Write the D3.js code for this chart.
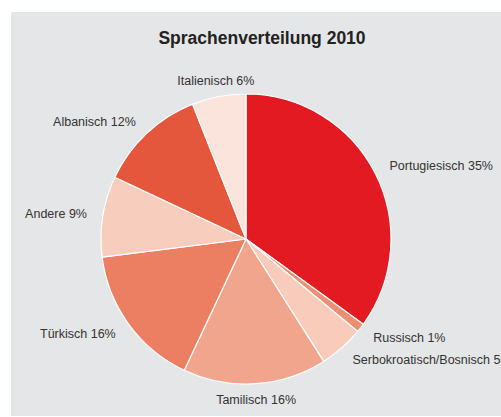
<!DOCTYPE html>
<html>
<head>
<meta charset="utf-8">
<script src="https://cdn.jsdelivr.net/npm/d3@7"></script>
<style>
  body { margin: 0; background: #fff; }
  svg { display: block; }
</style>
</head>
<body>
<div id="chart"></div>
<script>
// Sprachenverteilung 2010
var title = "Sprachenverteilung 2010";
var languages = ["Portugiesisch", "Russisch", "Serbokroatisch/Bosnisch", "Tamilisch",
                 "Türkisch", "Andere", "Albanisch", "Italienisch"];
var shares = [35, 1, 5, 16, 16, 9, 12, 6];
var colors = ["#e31a22", "#ef8f72", "#f8cbbb", "#f2a58d",
              "#ec7f62", "#f7cdbd", "#e5573c", "#fbe4db"];

function base() {
    var w = 501;
    var h = 417;
    var cx = 246, cy = 239;
    var outerRadius = 145;
    var labelRadius = 161;

    var svg = d3.select("#chart")
        .append("svg")
        .attr("width", w)
        .attr("height", h);

    // gray panel
    svg.append("rect")
        .attr("x", 11)
        .attr("y", 12)
        .attr("width", w - 11)
        .attr("height", h - 13)
        .attr("fill", "#e5e6e8");

    svg.append("text")
        .attr("x", 262)
        .attr("y", 44)
        .attr("text-anchor", "middle")
        .attr("font-family", "Liberation Sans, Arial, sans-serif")
        .attr("font-weight", "bold")
        .attr("font-size", "17.5px")
        .attr("fill", "#222")
        .text(title);

    var pie = d3.pie().sort(null).value(function(d) { return d; });
    var arc = d3.arc().innerRadius(0).outerRadius(outerRadius);
    var labelArc = d3.arc().innerRadius(labelRadius).outerRadius(labelRadius);

    var g = svg.append("g")
        .attr("transform", "translate(" + cx + "," + cy + ")");

    var arcs = g.selectAll("g.arc")
        .data(pie(shares))
        .enter()
        .append("g")
        .attr("class", "arc");

    arcs.append("path")
        .attr("fill", function(d, i) { return colors[i]; })
        .attr("stroke", "#fff")
        .attr("stroke-width", 1.2)
        .attr("stroke-linejoin", "round")
        .attr("d", arc);

    // labels outside the pie
    arcs.append("text")
        .attr("transform", function(d) {
            var c = labelArc.centroid(d);
            return "translate(" + c[0] + "," + (c[1] + 4) + ")";
        })
        .attr("text-anchor", function(d) {
            var a = (d.startAngle + d.endAngle) / 2;
            var s = Math.sin(a);
            if (Math.abs(s) < 0.35) return "middle";
            return s > 0 ? "start" : "end";
        })
        .attr("font-family", "Liberation Sans, Arial, sans-serif")
        .attr("font-size", "12.5px")
        .attr("fill", "#333")
        .text(function(d, i) { return languages[i] + " " + shares[i] + "%"; });
}

window.onload = base;
</script>
</body>
</html>
